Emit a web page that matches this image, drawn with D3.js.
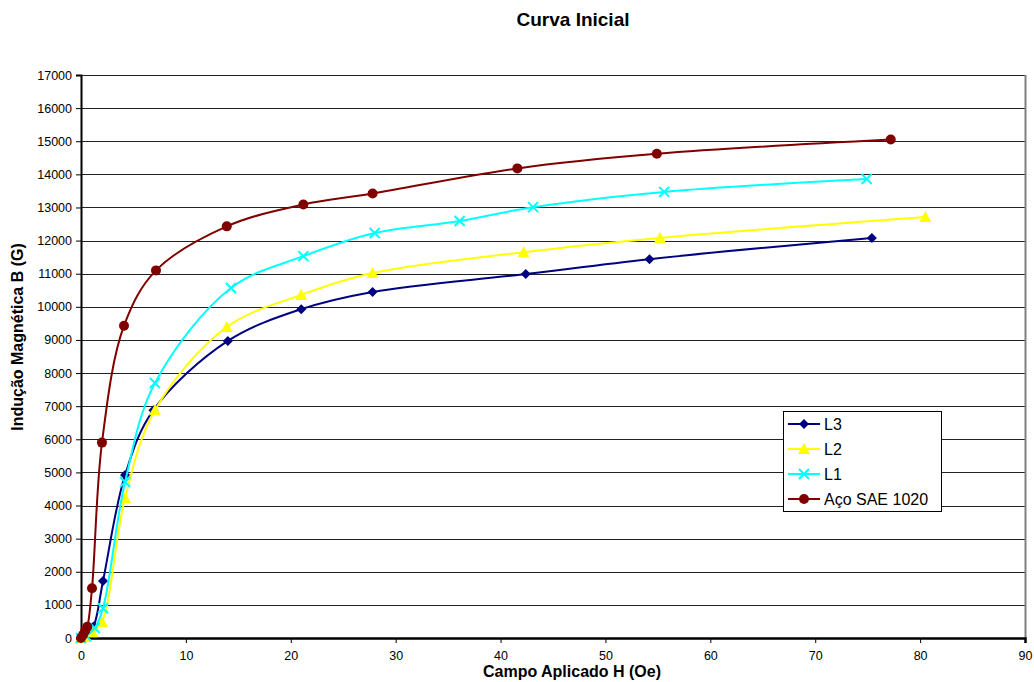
<!DOCTYPE html>
<html>
<head>
<meta charset="utf-8">
<script src="https://cdn.jsdelivr.net/npm/d3@7"></script>
<style>
  body { margin: 0; background: #fff; }
  svg { font-family: "Liberation Sans", Arial, sans-serif; }
</style>
</head>
<body>
<svg width="1034" height="682"></svg>
<script>
// Data (H in Oe, B in G)
const xTicks = [0, 10, 20, 30, 40, 50, 60, 70, 80, 90];
const yTicks = d3.range(0, 17001, 1000);

const l3 = [
  [0, 0], [0.5, 60], [1.2, 350], [2.1, 1720], [4.2, 4920], [6.9, 6880],
  [14.0, 8970], [21.0, 9930], [27.8, 10450], [42.4, 10990], [54.2, 11440], [75.4, 12080]
];
const l2 = [
  [0, 0], [0.4, 30], [1.1, 170], [2.0, 480], [4.2, 4230], [7.05, 6880],
  [13.9, 9390], [21.0, 10360], [27.8, 11020], [42.2, 11650], [55.2, 12080], [80.5, 12710]
];
const l1 = [
  [0, 0], [0.5, 60], [1.3, 300], [2.1, 900], [4.2, 4710], [7.05, 7700],
  [14.3, 10570], [21.2, 11530], [28.0, 12230], [36.1, 12590], [43.1, 13010], [55.6, 13470], [74.9, 13860]
];
const aco = [
  [0, 0], [0.2, 100], [0.4, 220], [0.6, 340], [1.05, 1500], [2.0, 5900], [4.1, 9430],
  [7.15, 11100], [13.9, 12430], [21.2, 13090], [27.8, 13420], [41.6, 14180], [54.9, 14620], [77.2, 15050]
];

const seriesNames = ["L3", "L2", "L1", "Aço SAE 1020"];
const seriesData = [l3, l2, l1, aco];
const seriesColors = ["#000080", "#ffff00", "#00ffff", "#800000"];
const seriesMarkers = ["diamond", "triangle", "cross", "circle"];

const svg = d3.select("svg");
const margin = { top: 75, right: 9, bottom: 44, left: 81 };
const width = 1034 - margin.left - margin.right;
const height = 682 - margin.top - margin.bottom;

const g = svg.append("g")
  .attr("transform", `translate(${margin.left},${margin.top})`);

const x = d3.scaleLinear().domain([0, 90]).range([0, width]);
const y = d3.scaleLinear().domain([0, 17000]).range([height, 0]);

// Title
svg.append("text")
  .attr("x", 573)
  .attr("y", 26)
  .attr("text-anchor", "middle")
  .attr("font-size", 19)
  .attr("font-weight", "bold")
  .text("Curva Inicial");

// Gridlines
g.append("g")
  .selectAll("line")
  .data(yTicks.filter(d => d > 0))
  .join("line")
  .attr("x1", 0)
  .attr("x2", width)
  .attr("y1", d => Math.round(y(d)) + 0.5)
  .attr("y2", d => Math.round(y(d)) + 0.5)
  .attr("stroke", "#222")
  .attr("stroke-width", 1);

// Right border
g.append("line")
  .attr("x1", width + 0.5).attr("x2", width + 0.5)
  .attr("y1", 0).attr("y2", height)
  .attr("stroke", "#808080")
  .attr("stroke-width", 2);

// Y axis
const yAxis = g.append("g")
  .call(d3.axisLeft(y).tickValues(yTicks).tickSize(5).tickPadding(4).tickFormat(d3.format("d")));
yAxis.select(".domain").attr("stroke", "#000").attr("stroke-width", 2);
yAxis.selectAll("text").attr("font-size", 12.5).attr("font-family", "Liberation Sans, Arial, sans-serif");

// X axis
const xAxis = g.append("g")
  .attr("transform", `translate(0,${height})`)
  .call(d3.axisBottom(x).tickValues(xTicks).tickSize(5).tickPadding(8));
xAxis.select(".domain").attr("stroke", "#000").attr("stroke-width", 2.5);
xAxis.selectAll("text").attr("font-size", 12.5).attr("font-family", "Liberation Sans, Arial, sans-serif");

// Axis titles
svg.append("text")
  .attr("x", 572)
  .attr("y", 677)
  .attr("text-anchor", "middle")
  .attr("font-size", 16)
  .attr("font-weight", "bold")
  .text("Campo Aplicado H (Oe)");

svg.append("text")
  .attr("transform", "rotate(-90)")
  .attr("x", -337)
  .attr("y", 23)
  .attr("text-anchor", "middle")
  .attr("font-size", 16)
  .attr("font-weight", "bold")
  .text("Indução Magnética B (G)");

// Lines
const line = d3.line()
  .x(d => x(d[0]))
  .y(d => y(d[1]))
  .curve(d3.curveCatmullRom.alpha(0.5));

function drawMarker(sel, type, color) {
  if (type === "circle") {
    sel.append("circle").attr("r", 5).attr("fill", color);
  } else if (type === "diamond") {
    sel.append("path").attr("d", "M0,-5L5,0L0,5L-5,0Z").attr("fill", color);
  } else if (type === "triangle") {
    sel.append("path").attr("d", "M0,-6L6,5L-6,5Z").attr("fill", color);
  } else {
    sel.append("path").attr("d", "M-5,-5L5,5M-5,5L5,-5")
      .attr("stroke", color).attr("stroke-width", 2).attr("fill", "none");
  }
}

seriesData.forEach((data, i) => {
  g.append("path")
    .datum(data)
    .attr("fill", "none")
    .attr("stroke", seriesColors[i])
    .attr("stroke-width", 2)
    .attr("d", line);

  g.append("g")
    .selectAll("g")
    .data(data)
    .join("g")
    .attr("transform", d => `translate(${x(d[0])},${y(d[1])})`)
    .each(function () { drawMarker(d3.select(this), seriesMarkers[i], seriesColors[i]); });
});

// Legend
const legend = svg.append("g").attr("transform", "translate(783,411)");
legend.append("rect")
  .attr("x", 0.5).attr("y", 0.5)
  .attr("width", 158).attr("height", 100)
  .attr("fill", "#fff")
  .attr("stroke", "#000");

seriesNames.forEach((name, i) => {
  const row = legend.append("g").attr("transform", `translate(0,${13 + i * 25})`);
  row.append("line")
    .attr("x1", 5).attr("x2", 37)
    .attr("stroke", seriesColors[i]).attr("stroke-width", 2);
  drawMarker(row.append("g").attr("transform", "translate(21,0)"), seriesMarkers[i], seriesColors[i]);
  row.append("text")
    .attr("x", 41).attr("y", 6)
    .attr("font-size", 16)
    .text(name);
});
</script>
</body>
</html>
